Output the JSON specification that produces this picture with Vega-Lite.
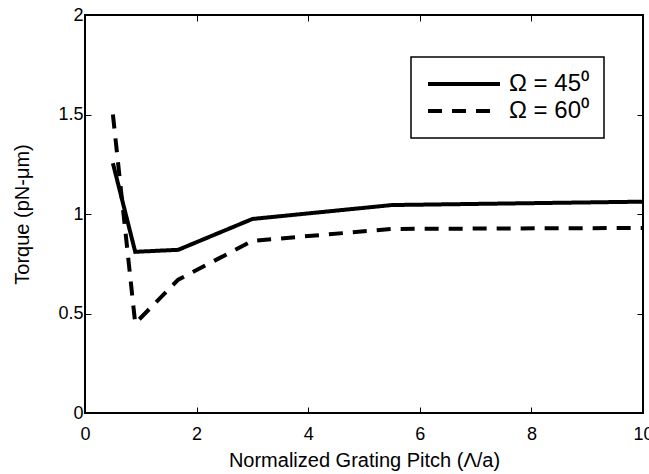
{
  "$schema": "https://vega.github.io/schema/vega-lite/v6.json",
  "width": 558,
  "height": 398,
  "autosize": {"type": "none"},
  "padding": {"left": 85, "top": 15, "right": 6, "bottom": 61},
  "background": "white",
  "config": {
    "font": "Liberation Sans",
    "view": {"stroke": "black", "strokeWidth": 2},
    "legend": {"strokeWidth": 1.5},
    "axis": {
      "domain": false,
      "grid": false,
      "labelFlush": false,
      "labelOverlap": false,
      "tickColor": "black",
      "tickSize": -6,
      "tickWidth": 1,
      "labelColor": "black",
      "labelFontSize": 18,
      "titleColor": "black",
      "titleFontSize": 20,
      "titleFontWeight": "normal"
    }
  },
  "data": {
    "values": [
      {"pitch": 0.5, "torque": 1.255, "series": "Ω = 45⁰"},
      {"pitch": 0.9, "torque": 0.81, "series": "Ω = 45⁰"},
      {"pitch": 1.67, "torque": 0.82, "series": "Ω = 45⁰"},
      {"pitch": 3.0, "torque": 0.975, "series": "Ω = 45⁰"},
      {"pitch": 5.5, "torque": 1.045, "series": "Ω = 45⁰"},
      {"pitch": 10, "torque": 1.062, "series": "Ω = 45⁰"},
      {"pitch": 0.5, "torque": 1.5, "series": "Ω = 60⁰"},
      {"pitch": 0.9, "torque": 0.45, "series": "Ω = 60⁰"},
      {"pitch": 1.67, "torque": 0.67, "series": "Ω = 60⁰"},
      {"pitch": 3.0, "torque": 0.865, "series": "Ω = 60⁰"},
      {"pitch": 5.5, "torque": 0.925, "series": "Ω = 60⁰"},
      {"pitch": 10, "torque": 0.93, "series": "Ω = 60⁰"}
    ]
  },
  "layer": [
    {
      "mark": {"type": "line", "color": "black", "strokeWidth": 4, "clip": true},
      "encoding": {
        "x": {
          "field": "pitch", "type": "quantitative",
          "scale": {"domain": [0, 10], "nice": false},
          "axis": {"values": [0, 2, 4, 6, 8, 10], "title": "Normalized Grating Pitch (Λ/a)", "labelPadding": 18, "titlePadding": 7}
        },
        "y": {
          "field": "torque", "type": "quantitative",
          "scale": {"domain": [0, 2], "nice": false},
          "axis": {"values": [0, 0.5, 1, 1.5, 2], "format": "~g", "title": "Torque (pN-μm)", "labelPadding": 8, "titlePadding": 25}
        },
        "strokeDash": {
          "field": "series", "type": "nominal",
          "scale": {"domain": ["Ω = 45⁰", "Ω = 60⁰"], "range": [[1, 0], [14, 10]]},
          "legend": {
            "title": null,
            "orient": "none",
            "legendX": 326,
            "legendY": 42,
            "strokeColor": "black",
            "fillColor": "white",
            "padding": 15,
            "symbolType": "stroke",
            "symbolSize": 5184,
            "symbolStrokeWidth": 4,
            "symbolStrokeColor": "black",
            "clipHeight": 24,
            "labelFontSize": 24,
            "labelColor": "black",
            "labelOffset": 7,
            "rowPadding": 3
          }
        }
      }
    },
    {
      "mark": {"type": "point", "opacity": 0},
      "encoding": {
        "x": {
          "field": "pitch", "type": "quantitative",
          "axis": {"orient": "top", "values": [0, 2, 4, 6, 8, 10], "labels": false, "title": null}
        },
        "y": {
          "field": "torque", "type": "quantitative",
          "axis": {"orient": "right", "values": [0, 0.5, 1, 1.5, 2], "labels": false, "title": null}
        }
      }
    }
  ],
  "resolve": {"axis": {"x": "independent", "y": "independent"}}
}
